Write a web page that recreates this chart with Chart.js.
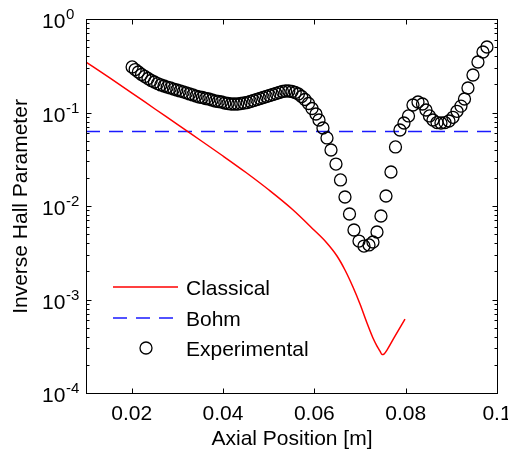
<!DOCTYPE html>
<html><head><meta charset="utf-8">
<script src="https://cdn.jsdelivr.net/npm/chart.js@4/dist/chart.umd.min.js"></script>
<style>html,body{margin:0;padding:0;background:#fff;overflow:hidden}canvas{display:block}</style>
</head><body>
<canvas id="c" width="508" height="453"></canvas>
<script>
// ---- data ----
const expX = [0.0201,0.02077,0.02147,0.02217,0.02288,0.02358,0.02428,0.02498,0.02568,0.02638,
0.02708,0.02778,0.02848,0.02918,0.02988,0.03058,0.03128,0.03198,0.03268,0.03339,
0.03409,0.03479,0.03549,0.03619,0.03689,0.03759,0.03829,0.03899,0.03969,0.04039,
0.04109,0.04179,0.04249,0.0432,0.0439,0.0446,0.0453,0.046,0.0467,0.0474,
0.0481,0.0488,0.0495,0.0502,0.0509,0.0516,0.0523,0.05301,0.05371,0.05441,
0.05511,0.05581,0.05651,0.05721,0.05795,0.05872,0.05949,0.06036,0.06102,0.06189,
0.06277,0.06365,0.06474,0.06573,0.06671,0.0677,0.06868,0.06978,0.07087,0.07197,
0.07284,0.07372,0.07459,0.07569,0.07678,0.07777,0.07875,0.07963,0.08062,0.0816,
0.0827,0.08368,0.08445,0.08521,0.08598,0.08686,0.08773,0.08861,0.08948,0.09036,
0.09124,0.09211,0.09288,0.09364,0.09474,0.09583,0.09693,0.0978];
const expY = [0.307,0.288,0.271,0.255,0.243,0.231,0.220,0.212,0.204,0.197,
0.192,0.187,0.183,0.178,0.174,0.170,0.166,0.162,0.158,0.154,
0.150,0.1465,0.1447,0.1412,0.1395,0.1361,0.1327,0.1311,0.1295,0.1264,
0.1248,0.1233,0.1233,0.1233,0.1248,0.1264,0.1279,0.1311,0.1344,0.1377,
0.1412,0.1447,0.1483,0.152,0.1558,0.1597,0.1637,0.1677,0.1698,0.1698,
0.1677,0.1637,0.1577,0.1483,0.1377,0.1248,0.1104,0.0964,0.0831,0.0683,
0.0534,0.0397,0.0281,0.019,0.01248,0.00821,0.00554,0.00422,0.00373,0.00383,
0.00412,0.00527,0.00782,0.01279,0.0231,0.0428,0.065,0.0772,0.0918,0.1203,
0.1295,0.1233,0.1064,0.0918,0.0831,0.0781,0.0772,0.0781,0.0811,0.0888,
0.1030,0.1170,0.1395,0.1828,0.2518,0.3468,0.4437,0.5019];
const classicalX = [0.0100,0.01504,0.02007,0.02511,0.02993,0.03496,0.04000,0.04504,0.05007,0.05511,
0.05992,0.06255,0.06496,0.06671,0.06846,0.07000,0.07153,0.07284,0.07372,0.07438,0.07481,0.07525,0.07591,0.07744,0.07985];
const classicalY = [0.3468,0.2370,0.1616,0.1090,0.0753,0.0508,0.03426,0.02282,0.01483,0.00929,
0.00554,0.00412,0.00292,0.002068,0.001360,0.000895,0.000561,0.000388,0.000318,0.000281,0.000258,0.000261,0.000288,0.000388,0.000618];
const bohmX = [0.01, 0.1];
const bohmY = [0.0625, 0.0625];
const xTicks = [0.02, 0.04, 0.06, 0.08, 0.1];
const xTickLabels = ['0.02', '0.04', '0.06', '0.08', '0.1'];
const yTicks = [1e-4, 1e-3, 1e-2, 1e-1, 1];
const yTickExps = ['-4', '-3', '-2', '-1', '0'];
const seriesNames = ['Classical', 'Bohm', 'Experimental'];
const xTitle = 'Axial Position [m]';
const yTitle = 'Inverse Hall Parameter';

const FONT = '"Liberation Sans", Arial, Helvetica, sans-serif';
const pts = (xs, ys) => xs.map((x, i) => ({x, y: ys[i]}));

const axesPlugin = {
  id: 'matlabAxes',
  afterDatasetsDraw(chart) {
    const ctx = chart.ctx, xs = chart.scales.x, ys = chart.scales.y;
    const L = Math.round(xs.getPixelForValue(0.01)) + 0.5;
    const R = Math.round(xs.getPixelForValue(0.1)) + 0.5;
    const T = Math.round(ys.getPixelForValue(1)) + 0.5;
    const B = Math.round(ys.getPixelForValue(1e-4)) + 0.5;
    ctx.save();
    ctx.strokeStyle = '#000'; ctx.lineWidth = 1;
    ctx.strokeRect(L, T, R - L, B - T);
    ctx.beginPath();
    xTicks.forEach(v => {
      const p = Math.round(xs.getPixelForValue(v)) + 0.5;
      ctx.moveTo(p, B); ctx.lineTo(p, B - 5);
      ctx.moveTo(p, T); ctx.lineTo(p, T + 5);
    });
    yTicks.forEach(v => {
      const p = Math.round(ys.getPixelForValue(v)) + 0.5;
      ctx.moveTo(L, p); ctx.lineTo(L + 5, p);
      ctx.moveTo(R, p); ctx.lineTo(R - 5, p);
    });
    for (let d = -4; d < 0; d++) {
      for (let m = 2; m <= 9; m++) {
        const p = Math.round(ys.getPixelForValue(m * Math.pow(10, d))) + 0.5;
        ctx.moveTo(L, p); ctx.lineTo(L + 3, p);
        ctx.moveTo(R, p); ctx.lineTo(R - 3, p);
      }
    }
    ctx.stroke();
    // tick labels
    ctx.fillStyle = '#000';
    ctx.font = '21px ' + FONT;
    ctx.textAlign = 'center'; ctx.textBaseline = 'alphabetic';
    xTicks.forEach((v, i) => ctx.fillText(xTickLabels[i], xs.getPixelForValue(v), B + 26));
    yTicks.forEach((v, i) => {
      const p = ys.getPixelForValue(v);
      ctx.font = '21px ' + FONT; ctx.textAlign = 'left';
      ctx.fillText('10', 42, p + 9);
      ctx.font = '15px ' + FONT;
      ctx.fillText(yTickExps[i], 66, p + 0);
    });
    // axis titles
    ctx.font = '21px ' + FONT; ctx.textAlign = 'center';
    ctx.fillText(xTitle, (L + R) / 2, 445);
    ctx.save();
    ctx.translate(27, (T + B) / 2);
    ctx.rotate(-Math.PI / 2);
    ctx.fillText(yTitle, 0, 0);
    ctx.restore();
    // legend
    ctx.textAlign = 'left';
    const rows = [287, 318, 348];
    ctx.lineWidth = 1.5;
    ctx.strokeStyle = '#ff0000';
    ctx.beginPath(); ctx.moveTo(113, rows[0]); ctx.lineTo(178, rows[0]); ctx.stroke();
    ctx.strokeStyle = '#1a1aff'; ctx.setLineDash([14, 9]);
    ctx.beginPath(); ctx.moveTo(113, rows[1]); ctx.lineTo(178, rows[1]); ctx.stroke();
    ctx.setLineDash([]);
    ctx.strokeStyle = '#000'; ctx.lineWidth = 1.3;
    ctx.beginPath(); ctx.arc(146, rows[2], 6, 0, Math.PI * 2); ctx.stroke();
    seriesNames.forEach((s, i) => ctx.fillText(s, 186, rows[i] + 8));
    ctx.restore();
  }
};

new Chart(document.getElementById('c'), {
  type: 'scatter',
  data: {
    datasets: [
      {label: seriesNames[0], data: pts(classicalX, classicalY), showLine: true, borderColor: '#ff0000',
       borderWidth: 1.5, pointRadius: 0, cubicInterpolationMode: 'monotone', order: 2},
      {label: seriesNames[1], data: pts(bohmX, bohmY), showLine: true, borderColor: '#1a1aff',
       borderWidth: 1.5, borderDash: [14, 9], pointRadius: 0, order: 3},
      {label: seriesNames[2], data: pts(expX, expY), showLine: false, borderColor: '#000',
       backgroundColor: 'rgba(0,0,0,0)', pointStyle: 'circle', pointRadius: 6, borderWidth: 1.3, order: 1}
    ]
  },
  options: {
    responsive: false, animation: false, devicePixelRatio: 1,
    layout: {padding: {left: 86, right: 11, top: 19, bottom: 60}},
    scales: {
      x: {type: 'linear', min: 0.01, max: 0.1, display: false},
      y: {type: 'logarithmic', min: 1e-4, max: 1, display: false}
    },
    plugins: {legend: {display: false}, tooltip: {enabled: false}},
    events: []
  },
  plugins: [axesPlugin]
});
</script>
</body></html>
